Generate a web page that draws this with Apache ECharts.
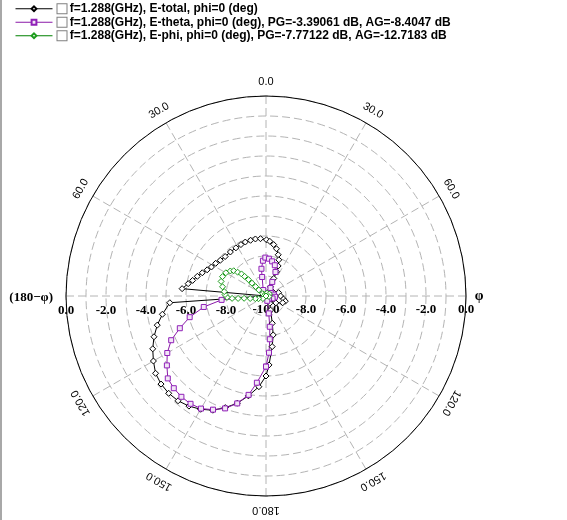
<!DOCTYPE html>
<html>
<head>
<meta charset="utf-8">
<script src="https://cdn.jsdelivr.net/npm/echarts@6/dist/echarts.min.js"></script>
<style>
  html, body { margin: 0; padding: 0; background: #fff; }
  #chart { width: 567px; height: 520px; }
</style>
</head>
<body>
<div id="chart"></div>
<script>
// [theta (deg), gain (dB)] - negative theta is the (180-phi) half, drawn on the left
const eTotal = [
  [-180, -6.0], [-175.5, -5.45], [-170, -4.93], [-165, -4.45], [-160, -4.06], [-155, -3.7],
  [-150, -3.46], [-145, -3.28], [-140, -3.16], [-135, -3.12], [-130, -3.15], [-125, -3.26],
  [-120, -3.5], [-115, -3.75], [-110, -4.04], [-105, -4.37], [-100, -4.74], [-94, -5.18],
  [-90, -10], [-85, -5.79], [-81, -6.06], [-78, -6.25], [-74, -6.43], [-70, -6.61],
  [-66, -6.78], [-62, -6.91], [-57, -7.0], [-52, -7.1], [-46, -7.16], [-39, -7.17],
  [-32, -7.16], [-26, -7.14], [-21, -7.11], [-15.5, -7.11], [-10.5, -7.1], [-5.5, -7.12],
  [0.5, -7.19], [4, -7.26], [8.5, -7.4], [12.5, -7.58], [16.5, -7.85], [19.5, -8.08],
  [22, -8.38], [23.5, -8.68], [24, -9.04], [26, -9.49], [33, -9.75], [45, -9.85],
  [60, -9.6], [75, -9.35], [90, -9.27], [100, -9.11], [105, -9.0], [112, -9.1],
  [125, -9.4], [140, -9.7], [152, -9.59], [162, -9.26], [167, -8.6], [169.5, -8.02],
  [173, -7.45], [177.5, -6.55], [180, -6.0]
];
const eTheta = [
  [-180, -6.47], [-174, -5.64], [-170, -4.98], [-165, -4.44], [-160, -4.02], [-155, -3.73],
  [-150, -3.5], [-145, -3.42], [-140, -3.42], [-135, -3.48], [-130, -3.59], [-125, -3.95],
  [-120, -4.3], [-115, -4.77], [-110.5, -5.4], [-105.5, -6.04], [-100, -6.84], [-95, -7.77],
  [-90, -10], [-30, -9.9], [-25, -9.67], [-11.5, -9.03], [-9.5, -8.62], [-5, -8.23],
  [-1, -8.08], [4.5, -8.13], [10, -8.24], [16, -8.4], [21.5, -8.71], [24, -9.23],
  [29, -9.54], [60, -9.7], [80, -9.6], [95, -9.55], [110, -9.65], [130, -9.8],
  [165, -9.75], [171, -9.12], [173, -8.45], [175, -7.83], [177, -7.16], [180, -6.47]
];
const ePhi = [
  [-180, -10], [-130, -9.8], [-110, -9.6], [-104, -9.45], [-99, -9.2], [-96, -8.9],
  [-95, -8.6], [-94, -8.3], [-92, -8.05], [-88, -7.95], [-84, -7.9], [-78, -7.78],
  [-72, -7.64], [-66, -7.62], [-60, -7.68], [-55, -7.82], [-52, -7.95], [-50, -8.15],
  [-48, -8.35], [-47.5, -8.55], [-47, -8.8], [-47.5, -9.05], [-48, -9.3], [-50, -9.53],
  [-55, -9.8], [-20, -9.9], [20, -9.85], [60, -9.8], [100, -9.85], [180, -10]
];
const seriesNames = [
  'f=1.288(GHz), E-total, phi=0 (deg)',
  'f=1.288(GHz), E-theta, phi=0 (deg), PG=-3.39061 dB, AG=-8.4047 dB',
  'f=1.288(GHz), E-phi, phi=0 (deg), PG=-7.77122 dB, AG=-12.7183 dB'
];
const angleTicks = [0, 30, 60, 120, 150, 180, -30, -60, -120, -150];
const radiusMin = -10, radiusMax = 0;

const cx = 266, cy = 296, R = 200;

function toPolar(list) {
  return list.map(([t, v]) => [Math.max(v, radiusMin), (t + 360) % 360]);
}

const gridLine = { show: true, lineStyle: { color: '#b4b4b4', width: 1, type: [8, 4] } };
const radialLabel = {
  show: true, color: '#000', fontFamily: 'Liberation Serif', fontWeight: 'bold', fontSize: 13,
  formatter: v => v.toFixed(1)
};

function sideRadius(showMin, margin) {
  return {
    type: 'value', min: radiusMin, max: radiusMax, interval: 2,
    axisLine: { show: false }, axisTick: { show: false }, splitLine: { show: false },
    axisLabel: Object.assign({ showMinLabel: showMin, margin: margin }, radialLabel)
  };
}

const angleGraphics = angleTicks.map(t => {
  const a = t * Math.PI / 180;
  const lr = R + 14;
  return {
    type: 'text',
    x: cx + lr * Math.sin(a),
    y: cy - lr * Math.cos(a),
    rotation: -a,
    style: {
      text: Math.abs(t).toFixed(1), fill: '#000', align: 'center', verticalAlign: 'middle',
      font: '11px "Liberation Sans"'
    }
  };
});

const chart = echarts.init(document.getElementById('chart'));
chart.setOption({
  animation: false,
  backgroundColor: '#fff',
  legend: {
    orient: 'vertical', left: 15, top: 2, padding: 0, itemWidth: 37, itemHeight: 6, itemGap: 0,
    selectedMode: false,
    data: seriesNames,
    lineStyle: { width: 1 },
    formatter: name => '{box|} ' + name,
    textStyle: {
      color: '#000', fontFamily: 'Liberation Sans', fontWeight: 'bold', fontSize: 12, lineHeight: 13.5,
      rich: { box: { width: 9, height: 9, borderColor: '#808080', borderWidth: 1, backgroundColor: '#fff' } }
    }
  },
  polar: [
    { center: [cx, cy], radius: R },
    { center: [cx, cy], radius: R },
    { center: [cx, cy], radius: R }
  ],
  angleAxis: [
    {
      polarIndex: 0, type: 'value', min: 0, max: 360, interval: 30, startAngle: 90, clockwise: true,
      axisLine: { lineStyle: { color: '#000', width: 1 } },
      axisTick: { show: false }, axisLabel: { show: false }, splitLine: gridLine
    },
    { polarIndex: 1, type: 'value', min: 0, max: 360, startAngle: 0, show: false },
    { polarIndex: 2, type: 'value', min: 0, max: 360, startAngle: 180, clockwise: false, show: false }
  ],
  radiusAxis: [
    {
      polarIndex: 0, type: 'value', min: radiusMin, max: radiusMax, interval: 1,
      axisLine: { show: false }, axisTick: { show: false }, axisLabel: { show: false }, splitLine: gridLine
    },
    Object.assign({ polarIndex: 1 }, sideRadius(true, -20)),
    Object.assign({ polarIndex: 2 }, sideRadius(false, 8))
  ],
  graphic: angleGraphics.concat([
    {
      type: 'rect', shape: { x: 0, y: 0, width: 2, height: 520 }, style: { fill: '#a8a8a8' }
    },
    {
      type: 'text', x: 53, y: 298,
      style: { text: '(180\u2212\u03c6)', fill: '#000', align: 'right', verticalAlign: 'middle',
        font: 'bold 13px "Liberation Serif"' }
    },
    {
      type: 'text', x: 479, y: 296,
      style: { text: '\u03c6', fill: '#000', align: 'center', verticalAlign: 'middle',
        font: 'bold 14px "Liberation Serif"' }
    }
  ]),
  series: [
    {
      name: seriesNames[0], type: 'line', coordinateSystem: 'polar', polarIndex: 0,
      data: toPolar(eTotal), symbol: 'diamond', symbolSize: 6, showAllSymbol: true,
      lineStyle: { color: '#000', width: 1 },
      itemStyle: { color: '#fff', borderColor: '#000', borderWidth: 1 }
    },
    {
      name: seriesNames[1], type: 'line', coordinateSystem: 'polar', polarIndex: 0,
      data: toPolar(eTheta), symbol: 'rect', symbolSize: 5, showAllSymbol: true,
      lineStyle: { color: '#8a1aa8', width: 1 },
      itemStyle: { color: '#f2e6f6', borderColor: '#9020b8', borderWidth: 1 }
    },
    {
      name: seriesNames[2], type: 'line', coordinateSystem: 'polar', polarIndex: 0,
      data: toPolar(ePhi), symbol: 'diamond', symbolSize: 6, showAllSymbol: true,
      lineStyle: { color: '#008000', width: 1 },
      itemStyle: { color: '#fff', borderColor: '#1c9c1c', borderWidth: 1 }
    }
  ]
});
</script>
</body>
</html>
